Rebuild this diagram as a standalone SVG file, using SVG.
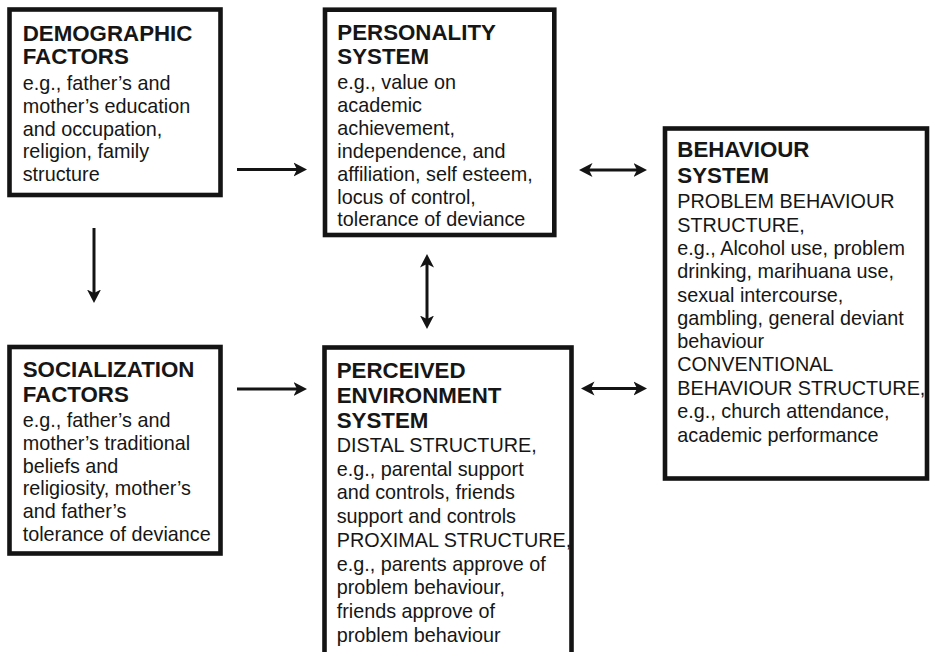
<svg xmlns="http://www.w3.org/2000/svg" width="930" height="652" viewBox="0 0 930 652">
  <style>
    .box { fill: #ffffff; stroke: #141414; stroke-width: 4.6; }
    .head { font-family: "Liberation Sans", Arial, Helvetica, sans-serif; font-size: 22.3px; font-weight: bold; fill: #161616; }
    .body { font-family: "Liberation Sans", Arial, Helvetica, sans-serif; font-size: 19.8px; fill: #161616; }
    .link { stroke: #141414; stroke-width: 3; fill: none; }
  </style>
  <defs>
    <marker id="head" viewBox="0 -8 14 16" markerUnits="userSpaceOnUse" markerWidth="14" markerHeight="16" refX="3.5" refY="0" orient="auto-start-reverse">
      <path d="M13.5,0 L0,-7 L3.5,0 L0,7 Z" fill="#141414"/>
    </marker>
  </defs>

  <rect width="930" height="652" fill="#ffffff"/>

  <g id="connectors">
    <!-- demographic -> personality -->
    <line class="link" x1="237" y1="169.5" x2="297" y2="169.5" marker-end="url(#head)"/>
    <!-- personality <-> behaviour -->
    <line class="link" x1="589" y1="170" x2="637" y2="170" marker-start="url(#head)" marker-end="url(#head)"/>
    <!-- demographic -> socialization -->
    <line class="link" x1="94" y1="228" x2="94" y2="293" marker-end="url(#head)"/>
    <!-- personality <-> perceived environment -->
    <line class="link" x1="427" y1="264" x2="427" y2="319" marker-start="url(#head)" marker-end="url(#head)"/>
    <!-- socialization -> perceived environment -->
    <line class="link" x1="237" y1="389" x2="297" y2="389" marker-end="url(#head)"/>
    <!-- perceived environment <-> behaviour -->
    <line class="link" x1="591" y1="388.5" x2="637" y2="388.5" marker-start="url(#head)" marker-end="url(#head)"/>
  </g>

  <g id="demographic">
    <rect class="box" x="9.5" y="9.5" width="211" height="185.5"/>
    <text class="head" x="22.7" y="40.5">DEMOGRAPHIC</text>
    <text class="head" x="22.7" y="64">FACTORS</text>
    <text class="body" x="22.7" y="90">e.g., father’s and</text>
    <text class="body" x="22.7" y="112.8">mother’s education</text>
    <text class="body" x="22.7" y="135.6">and occupation,</text>
    <text class="body" x="22.7" y="158.4">religion, family</text>
    <text class="body" x="22.7" y="181.2">structure</text>
  </g>

  <g id="personality">
    <rect class="box" x="325" y="9.7" width="229.3" height="225.3"/>
    <text class="head" x="337.3" y="39.5">PERSONALITY</text>
    <text class="head" x="337.3" y="64">SYSTEM</text>
    <text class="body" x="337.3" y="89.3">e.g., value on</text>
    <text class="body" x="337.3" y="112.2">academic</text>
    <text class="body" x="337.3" y="135">achievement,</text>
    <text class="body" x="337.3" y="157.9">independence, and</text>
    <text class="body" x="337.3" y="180.7">affiliation, self esteem,</text>
    <text class="body" x="337.3" y="203.5">locus of control,</text>
    <text class="body" x="337.3" y="226.3">tolerance of deviance</text>
  </g>

  <g id="behaviour">
    <rect class="box" x="665" y="128.5" width="262" height="350"/>
    <text class="head" x="677.3" y="157.3">BEHAVIOUR</text>
    <text class="head" x="677.3" y="182.8">SYSTEM</text>
    <text class="body" x="677.3" y="208.3">PROBLEM BEHAVIOUR</text>
    <text class="body" x="677.3" y="231.6">STRUCTURE,</text>
    <text class="body" x="677.3" y="254.9">e.g., Alcohol use, problem</text>
    <text class="body" x="677.3" y="278.2">drinking, marihuana use,</text>
    <text class="body" x="677.3" y="301.5">sexual intercourse,</text>
    <text class="body" x="677.3" y="324.8">gambling, general deviant</text>
    <text class="body" x="677.3" y="348.1">behaviour</text>
    <text class="body" x="677.3" y="371.4">CONVENTIONAL</text>
    <text class="body" x="677.3" y="394.7">BEHAVIOUR STRUCTURE,</text>
    <text class="body" x="677.3" y="418">e.g., church attendance,</text>
    <text class="body" x="677.3" y="441.5">academic performance</text>
  </g>

  <g id="socialization">
    <rect class="box" x="9.5" y="347" width="211" height="206.5"/>
    <text class="head" x="22.7" y="377.3">SOCIALIZATION</text>
    <text class="head" x="22.7" y="401.7">FACTORS</text>
    <text class="body" x="22.7" y="426.7">e.g., father’s and</text>
    <text class="body" x="22.7" y="449.6">mother’s traditional</text>
    <text class="body" x="22.7" y="472.5">beliefs and</text>
    <text class="body" x="22.7" y="495.4">religiosity, mother’s</text>
    <text class="body" x="22.7" y="518.3">and father’s</text>
    <text class="body" x="22.7" y="541.2">tolerance of deviance</text>
  </g>

  <g id="perceived-environment">
    <rect class="box" x="324.5" y="347.5" width="247" height="320"/>
    <text class="head" x="336.7" y="377.5">PERCEIVED</text>
    <text class="head" x="336.7" y="402.5">ENVIRONMENT</text>
    <text class="head" x="336.7" y="428.3">SYSTEM</text>
    <text class="body" x="336.7" y="452">DISTAL STRUCTURE,</text>
    <text class="body" x="336.7" y="475.7">e.g., parental support</text>
    <text class="body" x="336.7" y="499.4">and controls, friends</text>
    <text class="body" x="336.7" y="523.1">support and controls</text>
    <text class="body" x="336.7" y="546.8">PROXIMAL STRUCTURE,</text>
    <text class="body" x="336.7" y="570.5">e.g., parents approve of</text>
    <text class="body" x="336.7" y="594.2">problem behaviour,</text>
    <text class="body" x="336.7" y="617.9">friends approve of</text>
    <text class="body" x="336.7" y="641.6">problem behaviour</text>
  </g>
</svg>
